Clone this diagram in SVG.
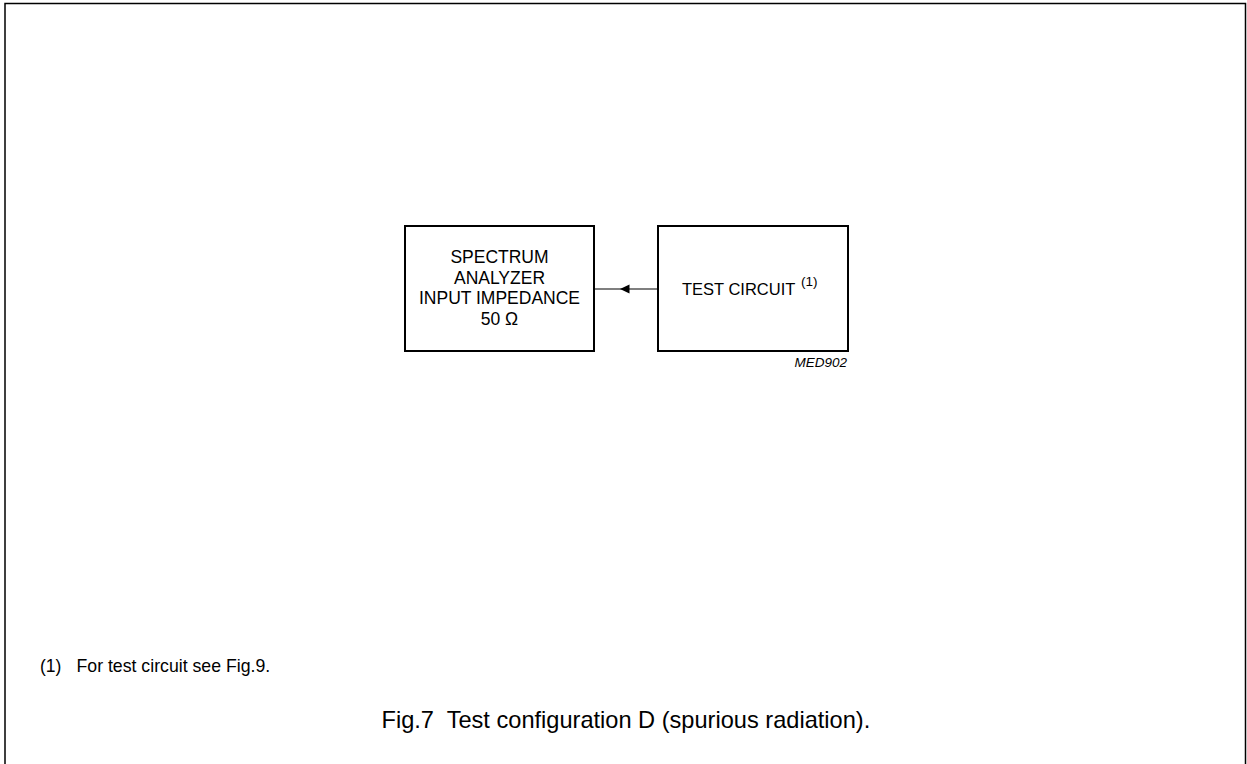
<svg xmlns="http://www.w3.org/2000/svg" width="1247" height="764" viewBox="0 0 1247 764">
<style>
text{font-family:"Liberation Sans",Arial,sans-serif;fill:#000}
.box{fill:none;stroke:#000;stroke-width:2}
.bt{font-size:17.5px;text-anchor:middle}
.ln{stroke:#000;stroke-width:1.2;fill:none}
</style>
<rect width="1247" height="764" fill="#fff"/>
<path d="M5,764 V3.5 H1245.5 V764" fill="none" stroke="#000" stroke-width="1.5"/>
<g id="spectrum-analyzer">
<rect class="box" x="405" y="226" width="189" height="125"/>
<text class="bt" x="499.5" y="263">SPECTRUM</text>
<text class="bt" x="499.5" y="283.5">ANALYZER</text>
<text class="bt" x="499.5" y="304">INPUT IMPEDANCE</text>
<text class="bt" x="499.5" y="324.5">50 Ω</text>
</g>
<g id="test-circuit">
<rect class="box" x="658" y="226" width="190" height="125"/>
<text x="682" y="295" style="font-size:16.5px">TEST CIRCUIT</text>
<text x="801" y="286" style="font-size:13.5px">(1)</text>
</g>
<g id="connectors">
<line class="ln" x1="594" y1="289" x2="658" y2="289"/>
<polygon points="620,289 629.5,284.5 629.5,293.5" fill="#000"/>
</g>
<text x="847" y="367" style="font-size:13.5px;font-style:italic;text-anchor:end">MED902</text>
<g id="footnote">
<text x="40" y="672" style="font-size:17.5px">(1)</text>
<text x="76.5" y="672" style="font-size:17.7px">For test circuit see Fig.9.</text>
</g>
<text x="381.5" y="728" xml:space="preserve" style="font-size:23.6px;white-space:pre">Fig.7  Test configuration D (spurious radiation).</text>
</svg>
